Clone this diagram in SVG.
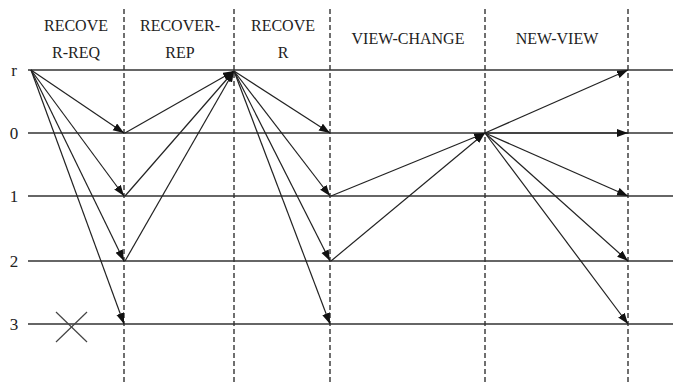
<svg xmlns="http://www.w3.org/2000/svg" width="673" height="385" viewBox="0 0 673 385">
<style>
.t{font-family:"Liberation Serif","Times New Roman",serif;font-size:16px;fill:#222;text-anchor:middle}
.n{font-family:"Liberation Serif","Times New Roman",serif;font-size:17px;fill:#222;text-anchor:middle}
.h{stroke:#333;stroke-width:1.6;fill:none}
.v{stroke:#333;stroke-width:1.4;stroke-dasharray:5,3;fill:none}
.a{stroke:#222;stroke-width:1.2;fill:none;marker-end:url(#ah)}
</style>
<defs>
<marker id="ah" markerUnits="userSpaceOnUse" markerWidth="12" markerHeight="10" refX="11" refY="4" orient="auto">
<path d="M0,0 L11,4 L0,8 Z" fill="#111"/>
</marker>
</defs>
<rect width="673" height="385" fill="#fff"/>
<g id="lanes">
<line class="h" x1="28" y1="70" x2="673" y2="70"/>
<line class="h" x1="28" y1="133" x2="673" y2="133"/>
<line class="h" x1="28" y1="196" x2="673" y2="196"/>
<line class="h" x1="28" y1="261" x2="673" y2="261"/>
<line class="h" x1="28" y1="324" x2="673" y2="324"/>
</g>
<g id="phases">
<line class="v" x1="124" y1="9" x2="124" y2="385"/>
<line class="v" x1="234" y1="9" x2="234" y2="385"/>
<line class="v" x1="330" y1="9" x2="330" y2="385"/>
<line class="v" x1="485" y1="9" x2="485" y2="385"/>
<line class="v" x1="628" y1="9" x2="628" y2="385"/>
</g>
<g id="labels">
<text class="t" x="76" y="31">RECOVE</text>
<text class="t" x="76" y="58">R-REQ</text>
<text class="t" x="180" y="31">RECOVER-</text>
<text class="t" x="180" y="58">REP</text>
<text class="t" x="283" y="31">RECOVE</text>
<text class="t" x="283" y="58">R</text>
<text class="t" x="408" y="44">VIEW-CHANGE</text>
<text class="t" x="557" y="44">NEW-VIEW</text>
</g>
<g id="rows">
<text class="n" x="14" y="76">r</text>
<text class="n" x="14" y="139">0</text>
<text class="n" x="14" y="202">1</text>
<text class="n" x="14" y="267">2</text>
<text class="n" x="14" y="330">3</text>
</g>
<g id="crash">
<line x1="56" y1="312" x2="87" y2="342" stroke="#444" stroke-width="1.2"/>
<line x1="87" y1="312" x2="56" y2="342" stroke="#444" stroke-width="1.2"/>
</g>
<g id="connectors">
<line class="a" x1="31" y1="70" x2="124" y2="133"/>
<line class="a" x1="31" y1="70" x2="124" y2="196"/>
<line class="a" x1="31" y1="70" x2="124" y2="261"/>
<line class="a" x1="31" y1="70" x2="124" y2="324"/>
<line class="a" x1="125" y1="133" x2="234" y2="71"/>
<line class="a" x1="125" y1="196" x2="234" y2="71"/>
<line class="a" x1="125" y1="261" x2="234" y2="71"/>
<line class="a" x1="234" y1="71" x2="330" y2="133"/>
<line class="a" x1="234" y1="71" x2="330" y2="196"/>
<line class="a" x1="234" y1="71" x2="330" y2="261"/>
<line class="a" x1="234" y1="71" x2="330" y2="324"/>
<line class="a" x1="331" y1="196" x2="485" y2="133"/>
<line class="a" x1="331" y1="261" x2="485" y2="133"/>
<line class="a" x1="485" y1="133" x2="628" y2="70"/>
<line class="a" x1="485" y1="133" x2="628" y2="133"/>
<line class="a" x1="485" y1="133" x2="628" y2="196"/>
<line class="a" x1="485" y1="133" x2="628" y2="261"/>
<line class="a" x1="485" y1="133" x2="628" y2="324"/>
</g>
</svg>
